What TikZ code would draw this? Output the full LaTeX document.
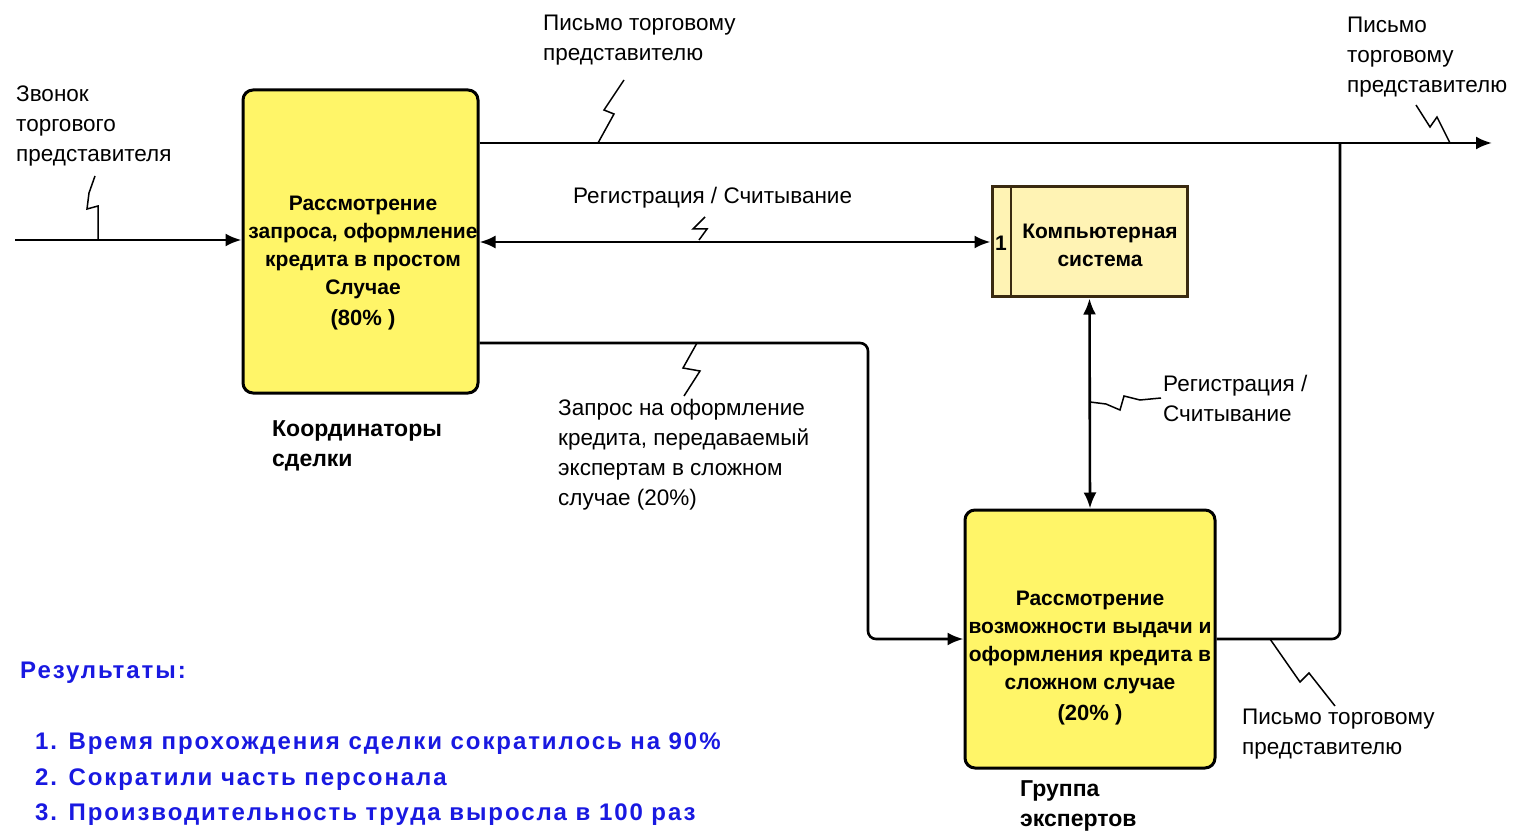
\documentclass[tikz,border=0pt]{standalone}
\usepackage{fontspec}
\setmainfont{Liberation Sans}
\usetikzlibrary{arrows.meta}

\definecolor{actfill}{HTML}{FFF568}
\definecolor{mechfill}{HTML}{FFF3B4}
\definecolor{mechedge}{HTML}{3A2A10}
\definecolor{resblue}{RGB}{25,25,225}

\tikzset{
  activity/.style={draw=black, line width=3pt, fill=actfill, rounded corners=10pt,
                   inner sep=0pt},
  acttext/.style={align=center, inner sep=0pt,
                  font=\fontsize{21}{28}\selectfont\bfseries},
  mechbox/.style={draw=mechedge, line width=3pt, fill=mechfill, inner sep=0pt},
  flow/.style={line width=2.6pt, -{Latex[length=16pt,width=13pt]}},
  twoway/.style={line width=2.6pt, {Latex[length=16pt,width=13pt]}-{Latex[length=16pt,width=13pt]}},
  plain/.style={line width=2.6pt},
  squig/.style={line width=1.5pt},
  lbl/.style={align=left, anchor=north west, inner sep=0pt,
              font=\fontsize{22.5}{30}\selectfont},
  role/.style={align=left, anchor=north west, inner sep=0pt,
               font=\fontsize{23}{30}\selectfont\bfseries},
  result/.style={anchor=north west, inner sep=0pt, text=resblue,
                 font=\fontsize{24}{35.5}\selectfont\bfseries\addfontfeatures{LetterSpace=8}}
}

\begin{document}
\begin{tikzpicture}[x=1pt,y=-1pt]
\useasboundingbox (0,0) rectangle (1513,834);

% ---- activity boxes ----
\node[activity, minimum width=235pt, minimum height=303pt] (act1) at (360.5,241.5) {};
\node[acttext] (act1txt) at (363,263)
  {Рассмотрение\\запроса, оформление\\кредита в простом\\Случае\\[3pt]\fontsize{22}{28}\selectfont(80\% )};

\node[mechbox, minimum width=195pt, minimum height=110pt] (sys) at (1089.5,242) {};
\draw[mechedge, line width=2.5pt] (1011,187) -- (1011,297);
\node[inner sep=0pt, font=\fontsize{21}{24}\selectfont\bfseries] (sysnum) at (1001,243) {1};
\node[acttext] (systxt) at (1100,245) {Компьютерная\\система};

\node[activity, minimum width=250pt, minimum height=258pt] (act2) at (1090,639) {};
\node[acttext] (act2txt) at (1090,658)
  {Рассмотрение\\возможности выдачи и\\оформления кредита в\\сложном случае\\[3pt]\fontsize{22}{28}\selectfont(20\% )};

% ---- helper points for connectors ----
\coordinate (inStart) at (15,240);
\coordinate (outEnd)  at (1492,143);
\coordinate (joint)   at (1340,143);
\coordinate (reqTurn) at (868,343);

% ---- connectors ----
\draw[flow] (inStart) -- (inStart -| act1.west);
\draw[flow] (act1.east |- outEnd) -- (outEnd);
\draw[plain, rounded corners=8pt] (act2.east) -- (joint |- act2.east) -- (joint);
\draw[twoway] (act1.east |- sys.west) -- (sys.west);
\draw[flow, rounded corners=8pt] (act1.east |- reqTurn) -- (reqTurn) |- (act2.west);
\draw[twoway] (sys.south) -- (act2.north);

% ---- connector labels with squiggle leaders ----
\node[lbl] (lblCall) at (16,86) {Звонок\\торгового\\представителя};
\draw[squig] (98,240) -- (98,206) -- (87,209) -- (89,193) -- (95,176);

\node[lbl] (lblLetterTop) at (543,15) {Письмо торговому\\представителю};
\draw[squig] (598,143) -- (614,114) -- (604,110) -- (624,80);

\node[lbl] (lblLetterRight) at (1347,17) {Письмо\\торговому\\представителю};
\draw[squig] (1450,143) -- (1437,117) -- (1430,127) -- (1416,105);

\node[lbl] (lblLetterBottom) at (1242,709) {Письмо торговому\\представителю};
\draw[squig] (1270,639) -- (1300,682) -- (1309,673) -- (1335,706);

\node[lbl] (lblReg) at (573,187) {Регистрация / Считывание};
\draw[squig] (699,240) -- (707,229) -- (693,229) -- (705,217);

\node[lbl] (lblReq) at (558,399) {Запрос на оформление\\кредита, передаваемый\\экспертам в сложном\\случае (20\%)};
\draw[squig] (697,343) -- (683,368) -- (700,371) -- (684,396);

\node[lbl] (lblRegV) at (1163,375) {Регистрация /\\Считывание};
\draw[squig] (1090,402) -- (1106,404) -- (1120,410) -- (1124,396) -- (1140,400) -- (1161,398);

% ---- performer labels ----
\node[role] (roleCoord) at (272,420) {Координаторы\\сделки};
\node[role] (roleExperts) at (1020,780) {Группа\\экспертов};

% ---- results ----
\node[result] (resHead) at (20,662) {Результаты:};
\node[result, align=left] (resList) at (35,733)
  {1. Время прохождения сделки сократилось на 90\%\\
   2. Сократили часть персонала\\
   3. Производительность труда выросла в 100 раз};
\end{tikzpicture}
\end{document}
